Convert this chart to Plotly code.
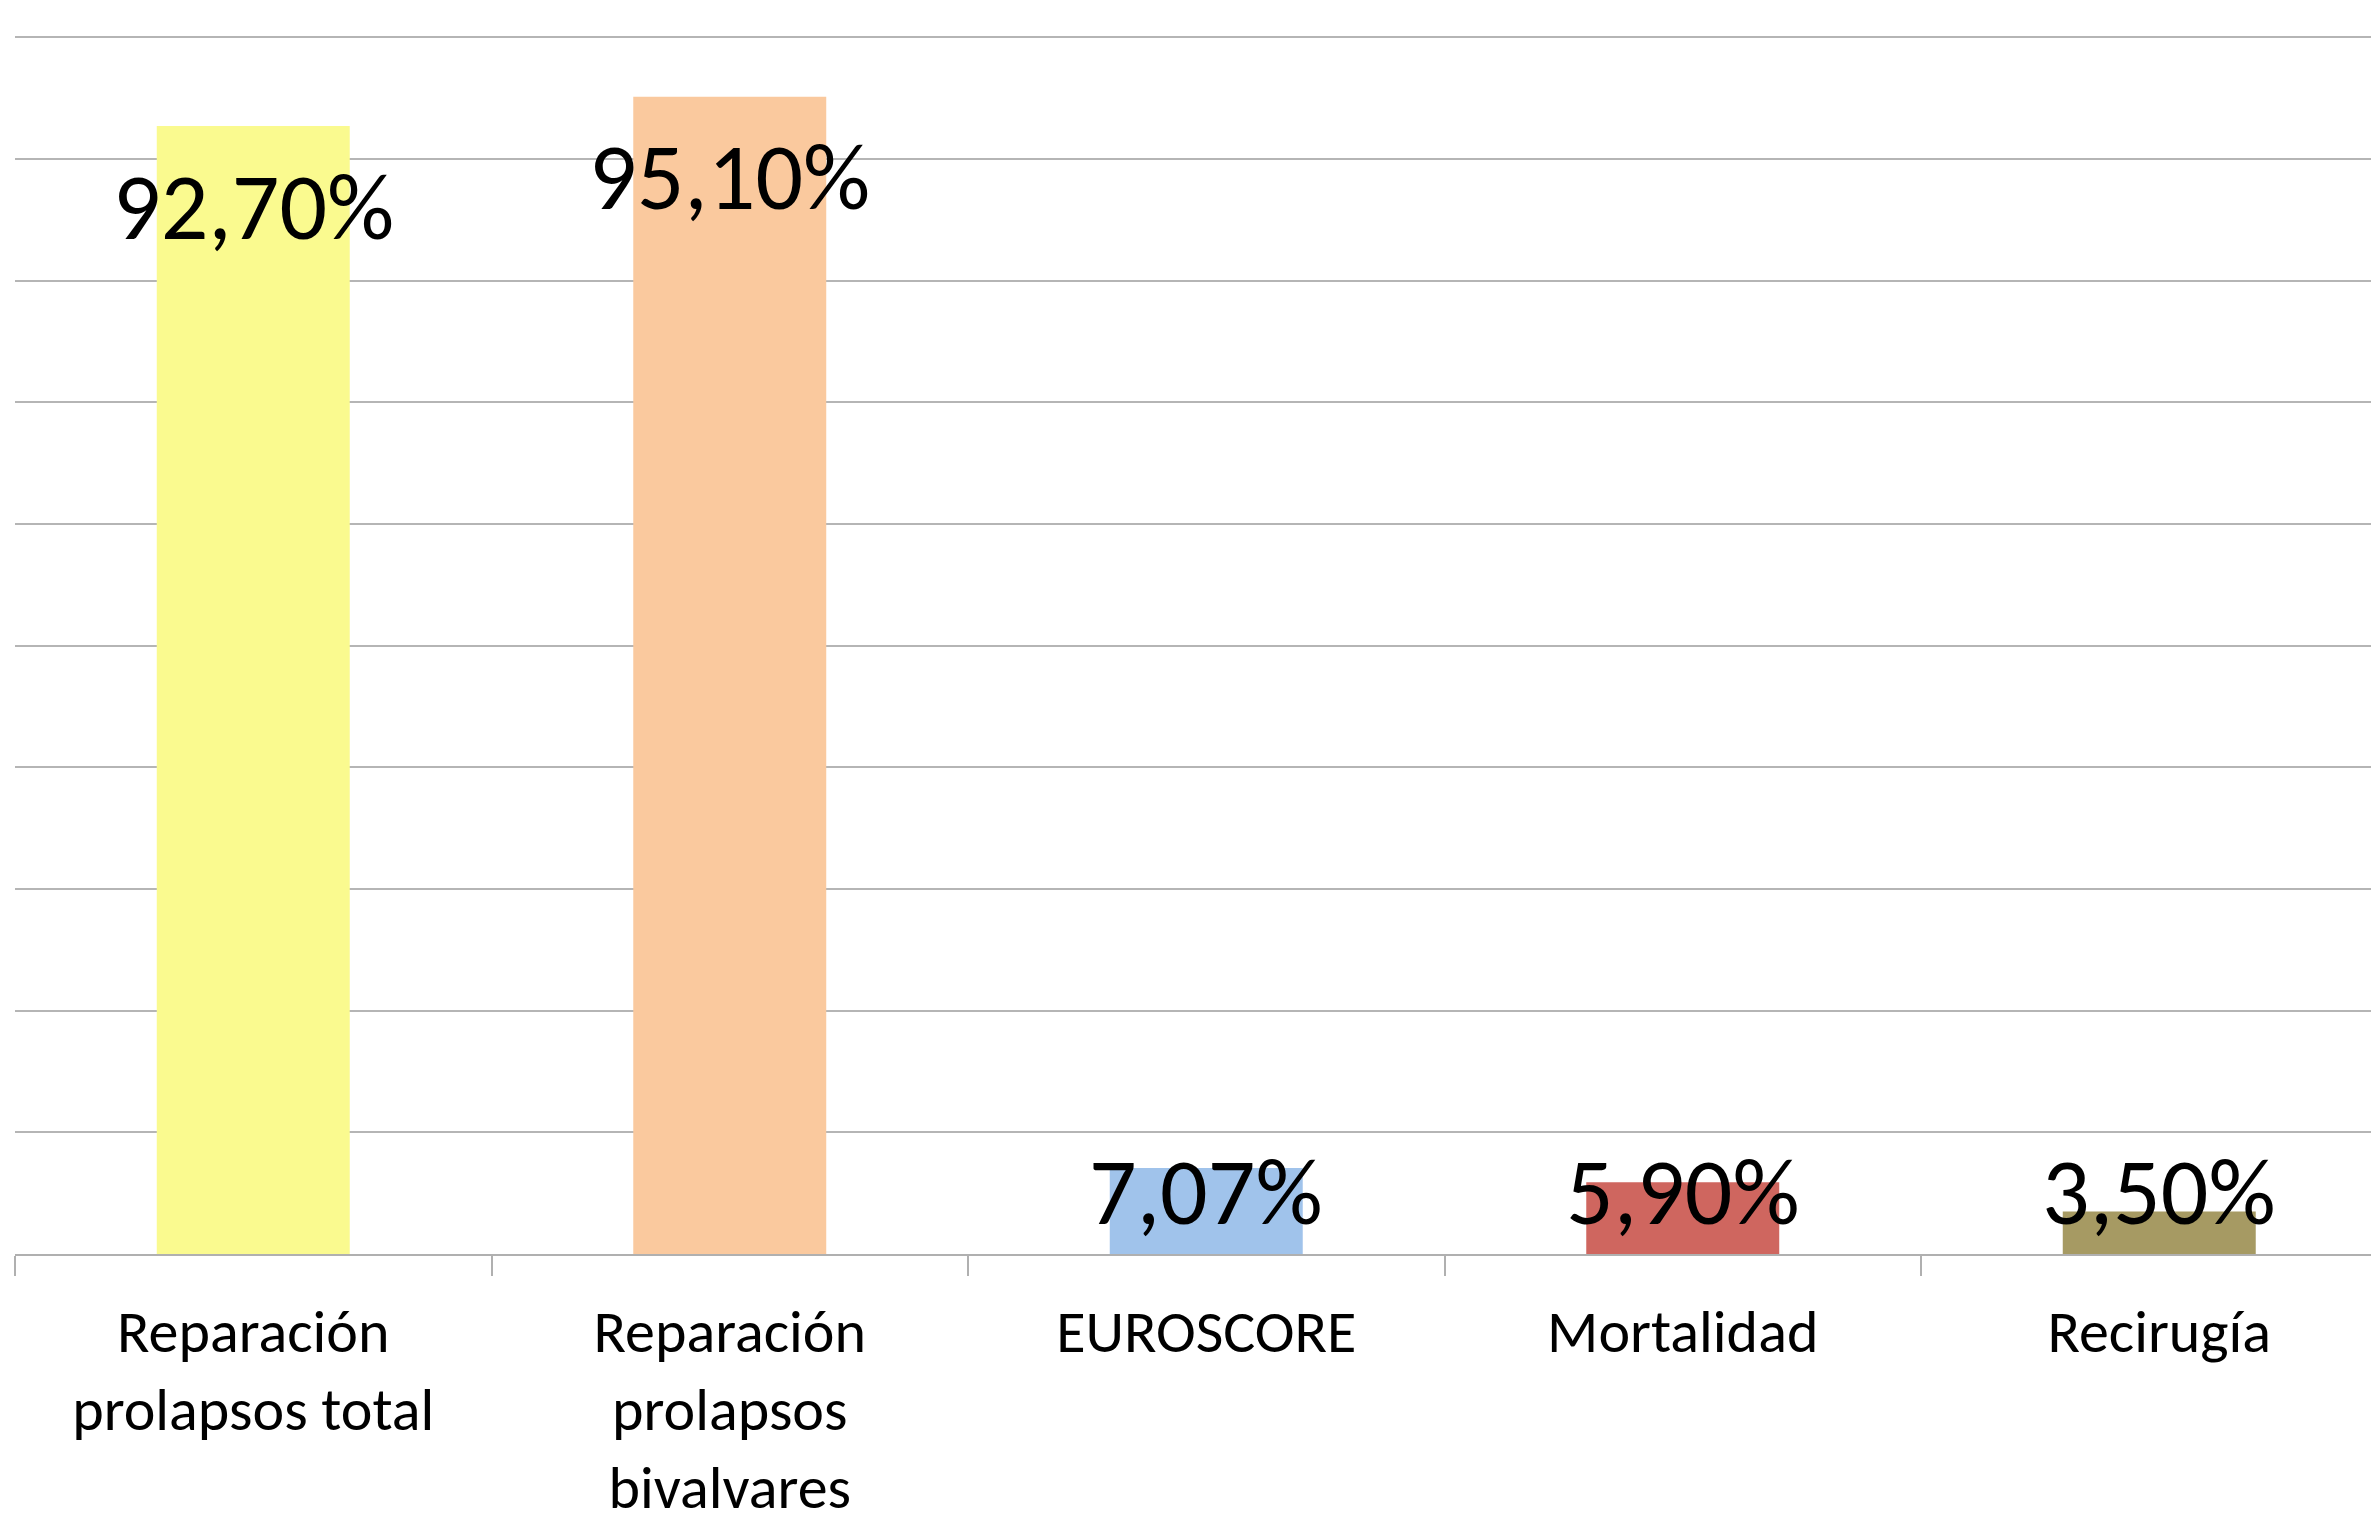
import plotly.graph_objects as go

categories = ["Reparación<br>prolapsos total", "Reparación<br>prolapsos<br>bivalvares",
              "EUROSCORE", "Mortalidad", "Recirugía"]
values = [92.70, 95.10, 7.07, 5.90, 3.50]
labels = ["92,70%", "95,10%", "7,07%", "5,90%", "3,50%"]
colors = ["#FAFA8F", "#FAC99E", "#A0C3EB", "#CF665F", "#A69A63"]

W, H = 2379, 1519
ML, MR, MT, MB = 7, 0, 0, 273
YMAX = 102.4
plot_h = H - MT - MB
ppu = plot_h / YMAX  # pixels per percent

FONT = "Carlito, Lato, sans-serif"

fig = go.Figure()
fig.add_trace(go.Bar(x=categories, y=values, marker=dict(color=colors, line=dict(width=0)),
                     width=0.405, hoverinfo="skip"))

for c, v, t in zip(categories, values, labels):
    shift = max(v * ppu - 80, 63)
    fig.add_annotation(x=c, y=0, yref="y", xref="x", text=t, showarrow=False,
                       yanchor="middle", yshift=shift,
                       font=dict(family=FONT, size=94, color="#000000"))

fig.update_layout(
    width=W, height=H,
    margin=dict(l=ML, r=MR, t=MT, b=MB, pad=0),
    paper_bgcolor="white", plot_bgcolor="white",
    showlegend=False,
    xaxis=dict(range=[-0.5, -0.5 + (W - ML - MR) / 476.5], tickson="boundaries",
               ticks="outside", ticklen=20, tickwidth=2, tickcolor="#B0B0B0",
               showline=True, linecolor="#B0B0B0", linewidth=2, showgrid=False,
               tickfont=dict(family=FONT, size=60, color="#000000"),
               ticklabelstandoff=24),
    yaxis=dict(range=[0, YMAX], dtick=10, showgrid=True, gridcolor="#B5B5B5", gridwidth=2,
               showticklabels=False, zeroline=False, showline=False, ticks=""),
)

fig.write_html("out.html")
